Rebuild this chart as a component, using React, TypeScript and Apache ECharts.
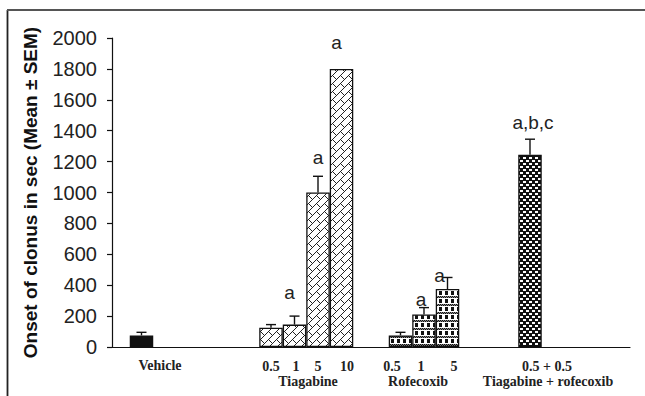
import React, { useEffect, useRef } from 'react';
import * as echarts from 'echarts';

// Treatment groups along the x axis
const groups = ['Vehicle', 'Tiagabine', 'Rofecoxib', 'Tiagabine + rofecoxib'];
// Dose labels (mg/kg) for each bar inside a group
const doseLabels: string[][] = [[], ['0.5', '1', '5', '10'], ['0.5', '1', '5'], ['0.5 + 0.5']];
// Mean onset of clonus (s) per bar in each group
const meanOnset: number[][] = [[75], [125, 145, 1000, 1800], [75, 210, 375], [1245]];
// SEM per bar
const semOnset: number[][] = [[20], [20, 55, 105, 0], [20, 45, 75], [100]];
// Significance marks per bar
const significance: string[][] = [[''], ['', 'a', 'a', 'a'], ['', 'a', 'a'], ['a,b,c']];
// Y axis scale
const yMin = 0;
const yMax = 2000;
const yStep = 200;

const SLOTS = 4;
const BAR_FRAC = 0.1815;
const SANS = '"Liberation Sans", Arial, sans-serif';
const SERIF = '"Liberation Serif", "Times New Roman", serif';

// Hand placement of the significance marks relative to the top of each error bar
const sigOffset: [number, number][][] = [
  [[0, 0]],
  [[0, 0], [-5, -24], [0, -19], [-5, -26]],
  [[0, 0], [-3, -8], [-8, -2]],
  [[3, -17]],
];

// Positions of the category texts under the axis
const doseX: number[][] = [[], [271, 296, 318, 347], [392, 421, 454], [547]];
const groupX = [160, 308, 418, 548];
const DOSE_Y = 366;
const GROUP_Y = 381;

function makePattern(rows: string[], ink: string, grey: string, paper: string) {
  const c = document.createElement('canvas');
  c.width = rows[0].length;
  c.height = rows.length;
  const ctx = c.getContext('2d')!;
  ctx.fillStyle = paper;
  ctx.fillRect(0, 0, c.width, c.height);
  rows.forEach((r, y) => {
    for (let x = 0; x < r.length; x++) {
      if (r[x] === '0') continue;
      ctx.fillStyle = r[x] === '2' ? grey : ink;
      ctx.fillRect(x, y, 1, 1);
    }
  });
  return { image: c, repeat: 'repeat', imageWidth: c.width, imageHeight: c.height } as any;
}

export default function App() {
  const ref = useRef<HTMLDivElement>(null);

  useEffect(() => {
    if (!ref.current) return;
    const chart = echarts.init(ref.current, undefined, { renderer: 'svg' });

    const fills = [
      '#111111',
      makePattern(
        ['00000001', '00000010', '00000100', '00001000', '00010100', '00100010', '01000001', '10000000'],
        '#222', '#777', '#ffffff'
      ),
      makePattern(
        ['121212', '212121', '000000', '011100', '011100', '011100', '011100', '000000'],
        '#111', '#888', '#ffffff'
      ),
      makePattern(
        ['111111', '100011', '100011', '111111', '011100', '011100'],
        '#111', '#888', '#ffffff'
      ),
    ];

    const barSeries = Array.from({ length: SLOTS }, (_, slot) => ({
      type: 'bar',
      barGap: '0%',
      barWidth: (BAR_FRAC * 100).toFixed(2) + '%',
      data: groups.map((_, gi) => {
        const v = meanOnset[gi][slot];
        if (v === undefined) return '-';
        return {
          value: v,
          itemStyle: { color: fills[gi], borderColor: '#111', borderWidth: 1.3 },
        };
      }),
      z: 2,
    }));

    const errItems: number[][] = [];
    const errSig: string[] = [];
    const errOff: [number, number][] = [];
    groups.forEach((_, gi) => {
      meanOnset[gi].forEach((m, slot) => {
        errItems.push([gi, slot, m, semOnset[gi][slot]]);
        errSig.push(significance[gi][slot]);
        errOff.push(sigOffset[gi][slot]);
      });
    });

    const errorSeries = {
      type: 'custom',
      data: errItems,
      encode: { x: 0, y: 2 },
      z: 3,
      renderItem: (params: any, api: any) => {
        const gi = api.value(0);
        const slot = api.value(1);
        const mean = api.value(2);
        const sem = api.value(3);
        const band = api.size([1, 0])[0];
        const bw = band * BAR_FRAC;
        const base = api.coord([gi, mean]);
        const x = base[0] + (slot - (SLOTS - 1) / 2) * bw;
        const topY = api.coord([gi, mean + sem])[1];
        const children: any[] = [];
        if (sem > 0) {
          children.push({
            type: 'line',
            shape: { x1: x, y1: base[1], x2: x, y2: topY },
            style: { stroke: '#111', lineWidth: 1.4 },
          });
          children.push({
            type: 'line',
            shape: { x1: x - 5, y1: topY, x2: x + 5, y2: topY },
            style: { stroke: '#111', lineWidth: 1.4 },
          });
        }
        const sig = errSig[params.dataIndex];
        if (sig) {
          const off = errOff[params.dataIndex];
          children.push({
            type: 'text',
            x: x + off[0],
            y: topY + off[1],
            style: {
              text: sig,
              fontSize: 19,
              fontFamily: SANS,
              fill: '#222',
              align: 'center',
              verticalAlign: 'middle',
            },
          });
        }
        return { type: 'group', children };
      },
    };

    const textStyle = { fontFamily: SERIF, fontWeight: 'bold', fontSize: 14, fill: '#222' };
    const graphics: any[] = [
      { type: 'line', shape: { x1: 7.5, y1: 10, x2: 7.5, y2: 396 }, style: { stroke: '#222', lineWidth: 1.8 } },
      { type: 'line', shape: { x1: 7, y1: 10, x2: 645, y2: 10 }, style: { stroke: '#555', lineWidth: 2 } },
    ];
    groups.forEach((g, gi) => {
      const isVehicle = doseLabels[gi].length === 0;
      graphics.push({
        type: 'text',
        x: groupX[gi],
        y: isVehicle ? DOSE_Y - 1 : GROUP_Y,
        style: { ...textStyle, text: g, align: 'center', verticalAlign: 'middle' },
      });
      doseLabels[gi].forEach((d, di) => {
        graphics.push({
          type: 'text',
          x: doseX[gi][di],
          y: DOSE_Y,
          style: { ...textStyle, text: d, align: 'center', verticalAlign: 'middle' },
        });
      });
    });

    chart.setOption({
      animation: false,
      grid: { left: 112, right: 15, top: 38, bottom: 49 },
      xAxis: {
        type: 'category',
        data: groups,
        axisLine: { lineStyle: { color: '#111', width: 1.2 } },
        axisTick: { length: 8, lineStyle: { color: '#111', width: 1.2 } },
        axisLabel: { show: false },
      },
      yAxis: {
        type: 'value',
        min: yMin,
        max: yMax,
        interval: yStep,
        name: 'Onset of clonus in sec (Mean ± SEM)',
        nameLocation: 'middle',
        nameGap: 72,
        nameTextStyle: { fontSize: 19, fontWeight: 'bold', color: '#111', fontFamily: SANS },
        axisLine: { show: true, lineStyle: { color: '#111', width: 1.2 } },
        axisTick: { show: true, length: 5, lineStyle: { color: '#111', width: 1.2 } },
        axisLabel: {
          fontSize: 20,
          margin: 15,
          color: '#222',
          fontFamily: SANS,
          formatter: (v: number) => String(v),
        },
        splitLine: { show: false },
      },
      series: [...barSeries, errorSeries],
      graphic: graphics,
    } as any);

    return () => chart.dispose();
  }, []);

  return (
    <div
      ref={ref}
      style={{ position: 'fixed', left: 0, top: 0, width: 645, height: 396, background: '#fff' }}
    />
  );
}
